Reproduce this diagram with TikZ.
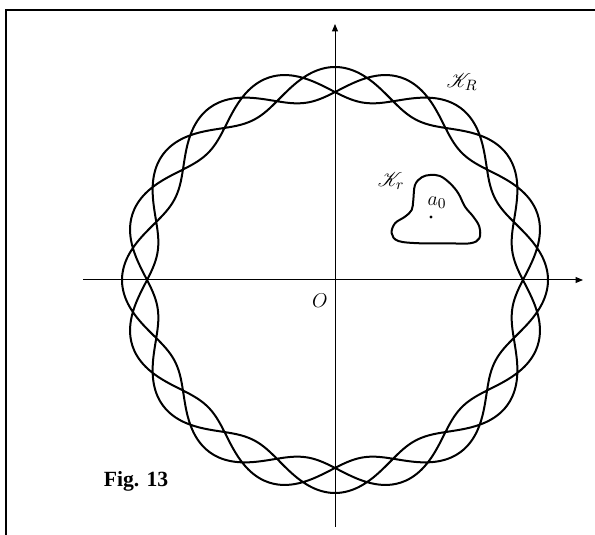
\documentclass[tikz,border=0pt]{standalone}
\usepackage{fontspec}
\setmainfont{Liberation Serif}
\usepackage{mathrsfs}
\usetikzlibrary{arrows.meta}
\tikzset{
  axis/.style={line width=0.6pt,-{Triangle[length=4.5pt,width=3.6pt]}},
  contour/.style={line width=1.2pt,line join=round},
  lbl/.style={font=\fontsize{13}{15}\selectfont},
}
\begin{document}
\begin{tikzpicture}[x=0.6pt,y=-0.6pt]
    \useasboundingbox (0,0) rectangle (595,535);
    \draw[line width=0.9pt] (6,535) -- (6,10) -- (595,10);
    \coordinate (xl) at (83,280);
    \coordinate (xr) at (583,280);
    \coordinate (yb) at (335,527);
    \coordinate (yt) at (335,24);
    \draw[axis] (xl) -- (xr);
    \draw[axis] (yb) -- (yt);
    \draw[contour] plot[domain=0:1080,samples=901,smooth,variable=\t]
      ({335+(196.3+16.7*cos(6.666667*\t))*cos(\t)},{280+(196.3+16.7*cos(6.666667*\t))*sin(\t)});
    \draw[contour] plot[smooth cycle,tension=0.6] coordinates {
      (415,185) (421.7,177.3) (430,175) (440,176) (450,183.3) (458.3,193.3)
      (465,206.7) (473.3,216.7) (479.3,226.7) (479.3,238.3) (470,243.3)
      (446.7,243.3) (420,243.3) (398.3,241) (391.7,233.3) (395,223.3)
      (405,216.7) (411.7,210) (413.3,200)};
    \fill (431,217) circle (1.7);
    \node[lbl] (a0) at (437,203) {$a_0$};
    \node[lbl] (KR) at (462,82) {$\mathscr{K}_R$};
    \node[lbl] (Kr) at (391,181) {$\mathscr{K}_r$};
    \node[lbl] (O) at (320,301) {$O$};
    \node[lbl,font=\fontsize{13}{15}\selectfont\bfseries] (fig) at (136,481) {Fig. 13};
\end{tikzpicture}
\end{document}
